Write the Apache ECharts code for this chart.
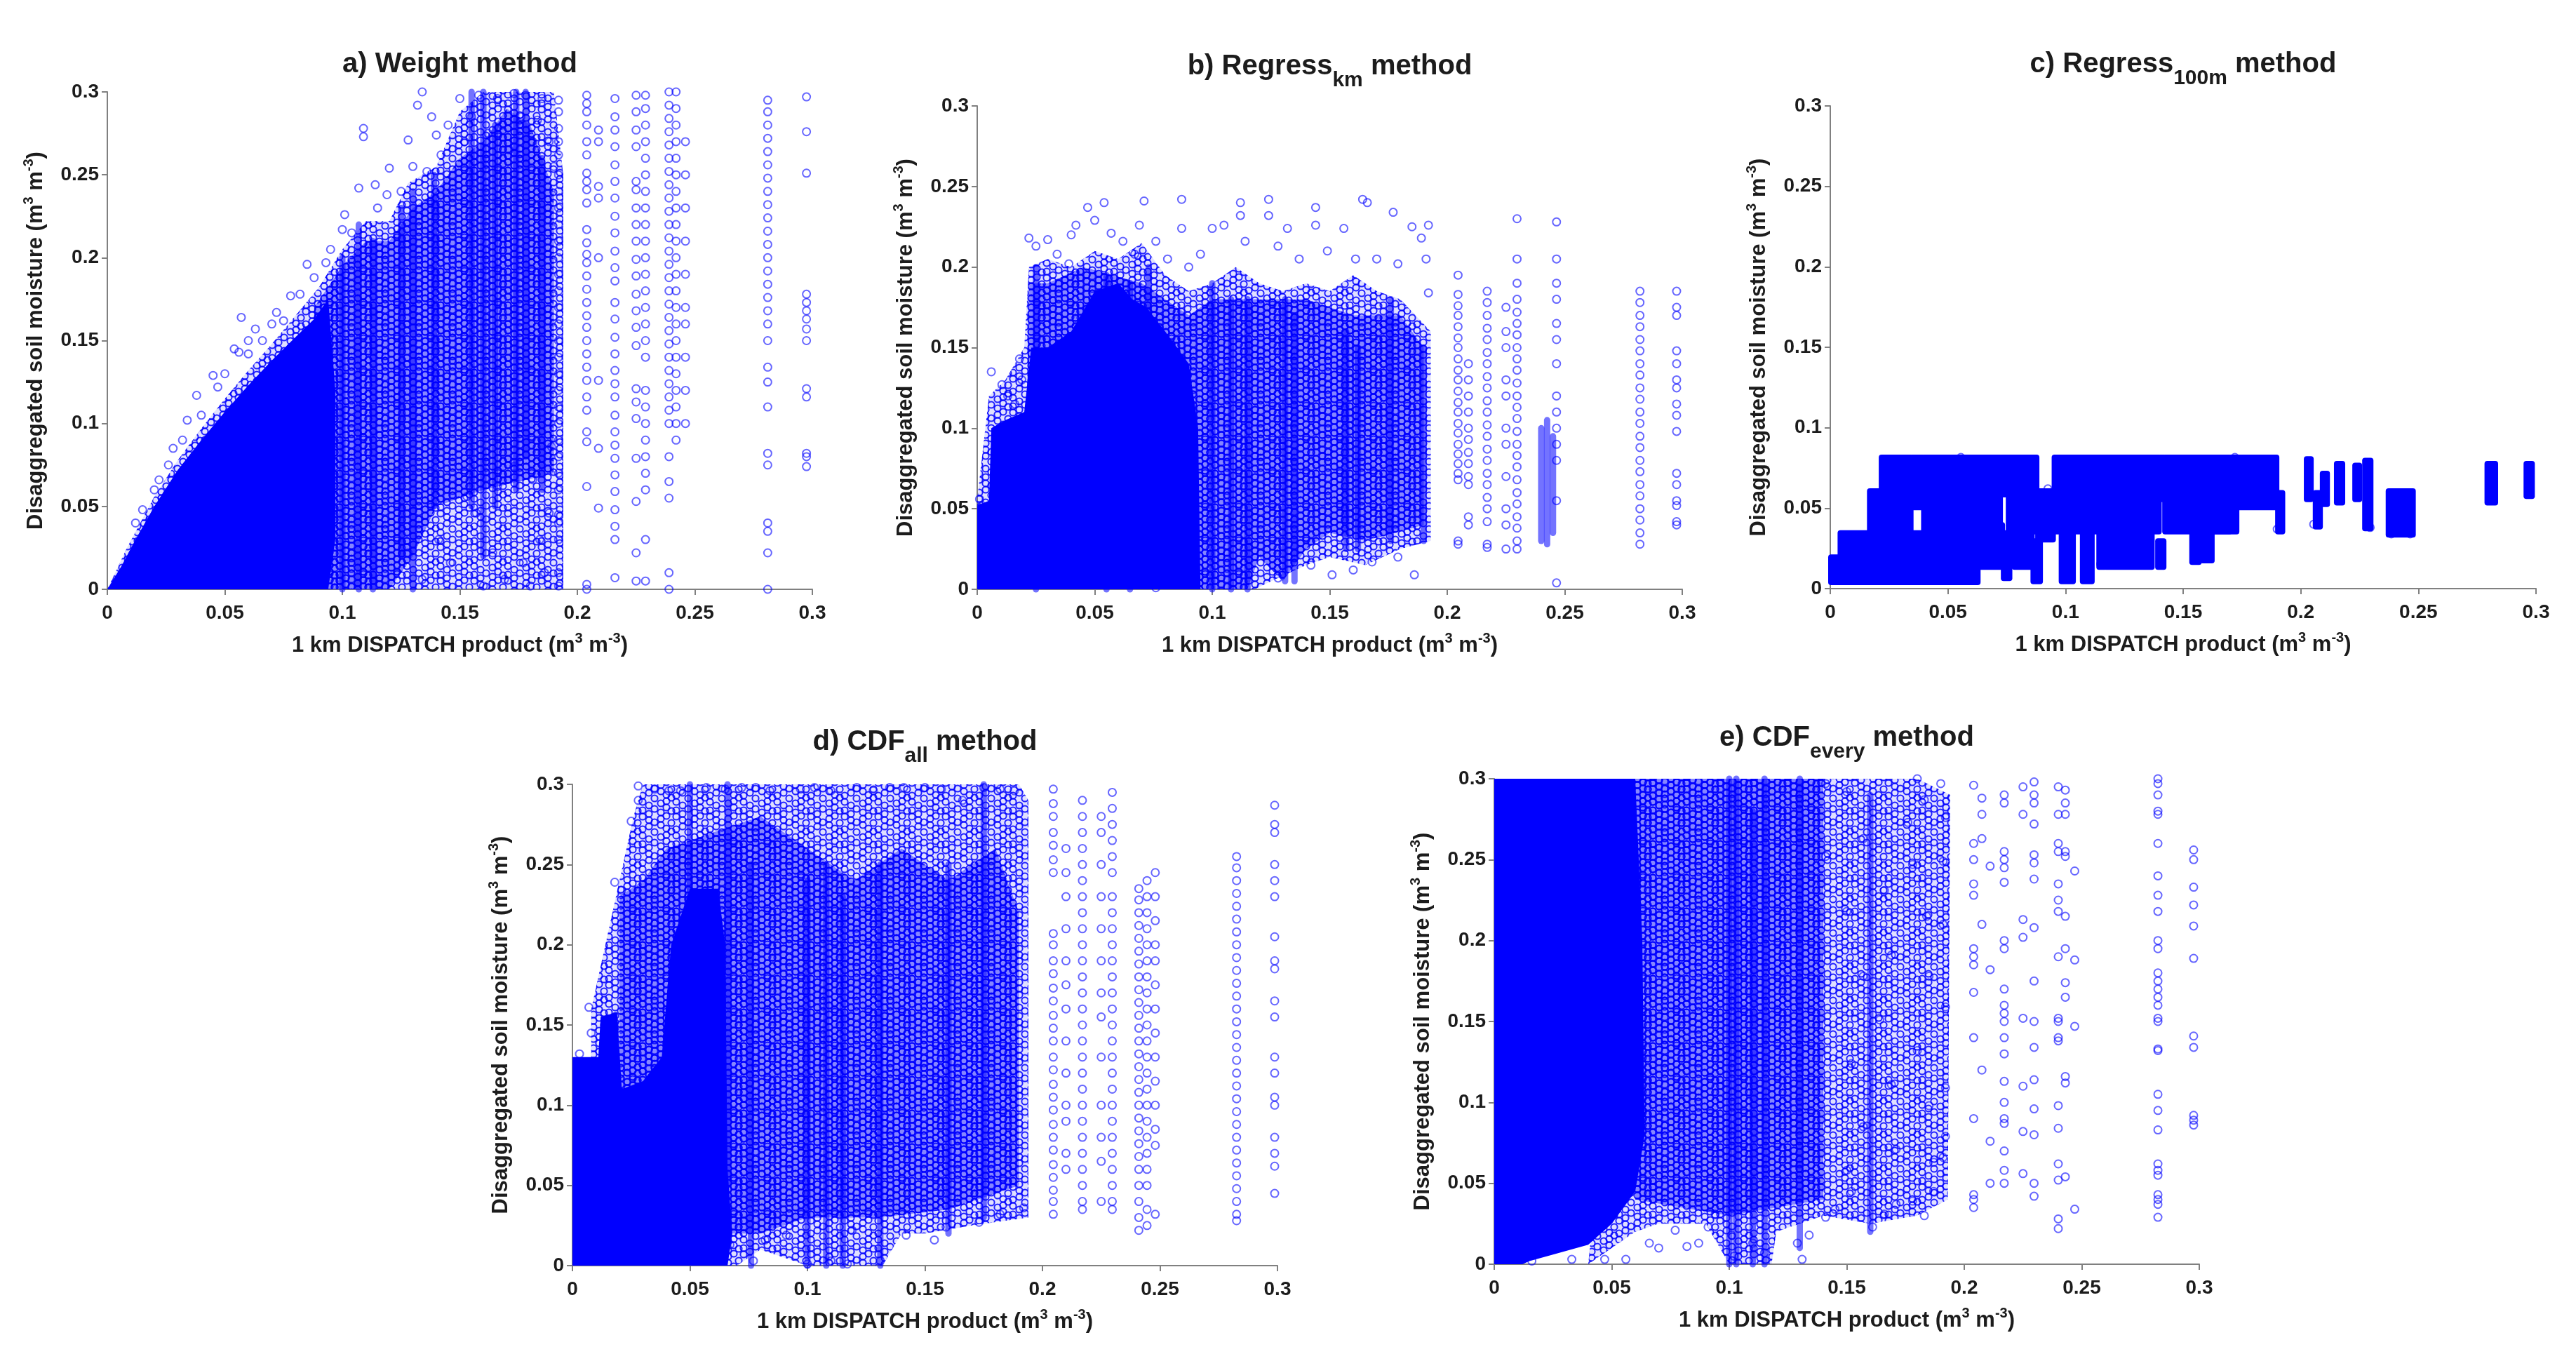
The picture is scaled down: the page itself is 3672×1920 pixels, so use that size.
<!DOCTYPE html>
<html><head><meta charset="utf-8">
<script src="https://cdn.jsdelivr.net/npm/echarts@6/dist/echarts.min.js"></script>
<style>html,body{margin:0;padding:0;background:#fff}#c{width:3672px;height:1920px}</style>
</head><body><div id="c"></div>
<script>
// ---------- text ----------
const tickLabels = ['0','0.05','0.1','0.15','0.2','0.25','0.3'];
const panelTitles = ['a) Weight method','b) Regress{sub|km} method','c) Regress{sub|100m} method','d) CDF{sub|all} method','e) CDF{sub|every} method'];

// ---------- panel a : Weight ----------
const aCore = [[0,0],[0.006,0.014],[0.012,0.03],[0.02,0.05],[0.03,0.072],[0.04,0.09],[0.05,0.107],[0.06,0.123],[0.07,0.138],[0.08,0.152],[0.088,0.163],[0.094,0.175],[0.097,0.12],[0.097,0.03],[0.094,0]];
const aOuter = [[0,0],[0.008,0.024],[0.02,0.056],[0.03,0.078],[0.04,0.097],[0.05,0.115],[0.06,0.132],[0.07,0.148],[0.08,0.165],[0.09,0.182],[0.1,0.205],[0.11,0.222],[0.12,0.222],[0.128,0.245],[0.14,0.255],[0.15,0.288],[0.16,0.3],[0.19,0.3],[0.194,0.25],[0.194,0]];
const aInner = [[0.088,0],[0.088,0.17],[0.1,0.195],[0.11,0.21],[0.12,0.21],[0.13,0.23],[0.14,0.24],[0.15,0.26],[0.16,0.27],[0.17,0.29],[0.18,0.28],[0.19,0.24],[0.19,0.07],[0.16,0.06],[0.14,0.05],[0.13,0.02],[0.12,0]];
const aSpans = [[0.1,0,0.2],[0.107,0,0.22],[0.113,0,0.21],[0.125,0.02,0.23],[0.13,0,0.24],[0.139,0.05,0.25],[0.155,0.05,0.3],[0.16,0.02,0.3],[0.165,0.05,0.28],[0.174,0.06,0.3],[0.178,0.08,0.3],[0.185,0.06,0.26]];
const aColX = [0.192,0.204,0.209,0.216,0.225,0.229,0.239,0.242,0.246,0.281,0.2975];
const aColY = [
 [0.295,0.288,0.278,0.27,0.262,0.25,0.24,0.23,0.22,0.21,0.2,0.19,0.18,0.17,0.16,0.15,0.14,0.13,0.12,0.11,0.1,0.09,0.08,0.07,0.06,0.045,0.04,0.03,0.01,0.002],
 [0.298,0.293,0.288,0.28,0.27,0.262,0.251,0.246,0.241,0.233,0.217,0.209,0.202,0.197,0.189,0.181,0.173,0.165,0.158,0.15,0.142,0.134,0.126,0.116,0.108,0.095,0.089,0.062,0.003,0],
 [0.277,0.27,0.243,0.236,0.2,0.126,0.085,0.049],
 [0.296,0.285,0.277,0.267,0.256,0.246,0.236,0.225,0.215,0.204,0.194,0.186,0.173,0.163,0.152,0.142,0.132,0.124,0.116,0.105,0.095,0.087,0.079,0.069,0.059,0.048,0.038,0.03,0.007],
 [0.298,0.288,0.277,0.267,0.246,0.241,0.23,0.22,0.21,0.199,0.189,0.178,0.168,0.158,0.147,0.121,0.113,0.103,0.079,0.053,0.022,0.005],
 [0.298,0.29,0.28,0.27,0.26,0.25,0.24,0.23,0.22,0.21,0.2,0.19,0.18,0.17,0.16,0.15,0.14,0.12,0.11,0.1,0.09,0.08,0.07,0.06,0.03,0.005],
 [0.3,0.292,0.284,0.276,0.268,0.26,0.252,0.244,0.236,0.228,0.22,0.212,0.204,0.196,0.188,0.18,0.172,0.164,0.156,0.148,0.14,0.132,0.124,0.116,0.108,0.1,0.08,0.065,0.055,0.01,0],
 [0.3,0.29,0.28,0.27,0.26,0.25,0.24,0.23,0.22,0.21,0.2,0.19,0.18,0.17,0.16,0.15,0.14,0.13,0.12,0.11,0.1,0.09],
 [0.27,0.25,0.23,0.21,0.19,0.17,0.16,0.14,0.12,0.1],
 [0.295,0.288,0.28,0.272,0.264,0.256,0.248,0.24,0.232,0.224,0.216,0.208,0.2,0.192,0.184,0.176,0.168,0.16,0.15,0.134,0.125,0.11,0.082,0.075,0.04,0.035,0.022,0],
 [0.297,0.276,0.251,0.178,0.173,0.168,0.163,0.157,0.15,0.121,0.116,0.082,0.08,0.074]
];
const aPts = [[0.057,0.164],[0.054,0.145],[0.056,0.143],[0.045,0.129],[0.038,0.117],[0.028,0.085],[0.034,0.102],[0.022,0.066],[0.012,0.04],[0.109,0.278],[0.109,0.273],[0.101,0.226],[0.1,0.217],[0.072,0.167],[0.063,0.157],[0.085,0.196],[0.078,0.177],[0.093,0.197],[0.107,0.242],[0.114,0.244],[0.12,0.254],[0.128,0.271],[0.134,0.3],[0.132,0.292],[0.14,0.274],[0.15,0.296],[0.158,0.298],[0.166,0.296],[0.173,0.299],[0.178,0.298],[0.185,0.296],[0.153,0.056],[0.157,0.046],[0.164,0.022],[0.169,0.006],[0.177,0.016],[0.184,0.03],[0.188,0.046],[0.186,0.01],[0.18,0.002],[0.16,0.002],[0.146,0.016],[0.141,0.03],[0.134,0.006],[0.128,0.022],[0.166,0.062],[0.173,0.074],[0.181,0.066],[0.189,0.086],[0.138,0.285],[0.142,0.262],[0.145,0.28],[0.152,0.27],[0.155,0.285],[0.162,0.275],[0.168,0.28],[0.171,0.265],[0.176,0.285],[0.181,0.27],[0.183,0.283],[0.188,0.27],[0.19,0.255],[0.115,0.23],[0.125,0.24],[0.119,0.238],[0.13,0.255],[0.136,0.252],[0.015,0.048],[0.02,0.06],[0.026,0.075],[0.032,0.09],[0.04,0.105],[0.047,0.122],[0.05,0.13],[0.06,0.142],[0.066,0.15],[0.075,0.162],[0.082,0.178],[0.088,0.188],[0.095,0.205],[0.104,0.215],[0.06,0.15],[0.07,0.16]];

// ---------- panel b : Regress_km ----------
const bCore = [[0,0],[0,0.052],[0.005,0.055],[0.006,0.1],[0.012,0.105],[0.02,0.11],[0.023,0.15],[0.03,0.15],[0.04,0.16],[0.05,0.185],[0.06,0.19],[0.066,0.18],[0.072,0.175],[0.08,0.16],[0.09,0.14],[0.094,0.1],[0.095,0]];
const bOuter = [[0,0],[0,0.056],[0.005,0.12],[0.012,0.13],[0.02,0.15],[0.022,0.2],[0.03,0.205],[0.04,0.2],[0.05,0.21],[0.06,0.205],[0.07,0.215],[0.08,0.195],[0.09,0.185],[0.1,0.19],[0.11,0.2],[0.12,0.19],[0.13,0.185],[0.14,0.19],[0.15,0.185],[0.16,0.195],[0.17,0.185],[0.18,0.18],[0.193,0.16],[0.193,0.03],[0.18,0.025],[0.165,0.015],[0.15,0.02],[0.14,0.015],[0.125,0.005],[0.118,0],[0.09,0]];
const bInner = [[0.02,0],[0.022,0.19],[0.03,0.19],[0.045,0.2],[0.07,0.19],[0.09,0.17],[0.1,0.18],[0.12,0.18],[0.14,0.18],[0.16,0.17],[0.18,0.17],[0.19,0.15],[0.19,0.04],[0.165,0.03],[0.15,0.035],[0.14,0.025],[0.13,0.005],[0.12,0.02],[0.115,0]];
const bSpans = [[0.025,0,0.2],[0.055,0,0.195],[0.065,0,0.19],[0.073,0.02,0.2],[0.1,0,0.19],[0.108,0,0.18],[0.115,0,0.18],[0.131,0.005,0.18],[0.135,0.005,0.17],[0.157,0.025,0.16],[0.162,0.025,0.15],[0.176,0.03,0.18],[0.19,0.03,0.15],[0.24,0.03,0.1],[0.2425,0.028,0.105],[0.245,0.035,0.095]];
const bColX = [0.2046,0.209,0.217,0.225,0.2297,0.2465,0.282,0.2976];
const bColY = [
 [0.195,0.183,0.176,0.17,0.163,0.156,0.15,0.143,0.136,0.13,0.123,0.116,0.11,0.103,0.097,0.09,0.084,0.078,0.072,0.068,0.03,0.028],
 [0.14,0.13,0.12,0.11,0.1,0.093,0.085,0.078,0.07,0.065,0.045,0.04],
 [0.185,0.178,0.17,0.162,0.155,0.147,0.14,0.132,0.125,0.117,0.11,0.102,0.095,0.087,0.08,0.072,0.065,0.057,0.05,0.042,0.028,0.026],
 [0.175,0.16,0.15,0.13,0.12,0.1,0.09,0.07,0.05,0.04,0.025],
 [0.23,0.205,0.19,0.18,0.172,0.165,0.158,0.15,0.143,0.136,0.128,0.12,0.113,0.106,0.098,0.09,0.083,0.076,0.068,0.06,0.053,0.045,0.038,0.03,0.025],
 [0.228,0.205,0.19,0.18,0.165,0.155,0.14,0.12,0.11,0.1,0.09,0.08,0.055,0.004],
 [0.185,0.178,0.17,0.163,0.155,0.148,0.14,0.133,0.125,0.118,0.11,0.103,0.095,0.088,0.08,0.073,0.065,0.058,0.05,0.043,0.035,0.028],
 [0.185,0.175,0.17,0.148,0.14,0.13,0.125,0.115,0.108,0.098,0.072,0.065,0.055,0.052,0.042,0.04]
];
const bPts = [[0.054,0.24],[0.047,0.237],[0.042,0.226],[0.04,0.22],[0.05,0.229],[0.069,0.226],[0.071,0.241],[0.087,0.242],[0.087,0.224],[0.1,0.224],[0.105,0.226],[0.112,0.24],[0.112,0.232],[0.124,0.242],[0.124,0.232],[0.132,0.224],[0.144,0.237],[0.144,0.226],[0.156,0.224],[0.164,0.242],[0.166,0.24],[0.177,0.234],[0.185,0.225],[0.192,0.226],[0.189,0.218],[0.022,0.218],[0.025,0.213],[0.03,0.217],[0.034,0.208],[0.039,0.202],[0.057,0.221],[0.062,0.216],[0.067,0.208],[0.076,0.216],[0.081,0.205],[0.09,0.2],[0.095,0.208],[0.114,0.216],[0.128,0.213],[0.137,0.205],[0.149,0.21],[0.161,0.205],[0.17,0.205],[0.179,0.202],[0.191,0.205],[0.192,0.184],[0.006,0.135],[0.0105,0.127],[0.013,0.12],[0.016,0.115],[0.019,0.13],[0.018,0.143],[0.002,0.052],[0.001,0.056],[0.186,0.009],[0.151,0.009],[0.16,0.012],[0.142,0.015],[0.076,0.001],[0.128,0.007],[0.168,0.017],[0.179,0.02]];

// ---------- panel c : Regress_100m (blocks: x0, x1, y0, y1) ----------
const cBlocks = [
 [0,0.0055,0.0035,0.02],[0.004,0.063,0.0035,0.035],[0.0165,0.0225,0.02,0.061],[0.0215,0.0345,0.035,0.082],[0.0345,0.0395,0.05,0.082],
 [0.0395,0.0725,0.035,0.082],[0.0725,0.0755,0.058,0.082],[0.0755,0.088,0.035,0.082],[0.088,0.095,0.03,0.061],[0.095,0.14,0.035,0.082],
 [0.14,0.142,0.055,0.082],[0.142,0.17,0.035,0.082],[0.17,0.19,0.05,0.082],[0.19,0.1925,0.035,0.06],
 [0.0635,0.0734,0.013,0.04],[0.0734,0.0765,0.006,0.035],[0.078,0.086,0.013,0.035],[0.086,0.0895,0.004,0.03],[0.098,0.1035,0.004,0.035],
 [0.107,0.1115,0.004,0.035],[0.114,0.117,0.013,0.035],[0.117,0.137,0.013,0.035],[0.139,0.142,0.013,0.03],[0.1535,0.157,0.016,0.035],
 [0.158,0.1625,0.017,0.04],[0.163,0.173,0.035,0.06],
 [0.2022,0.2046,0.055,0.081],[0.206,0.2085,0.038,0.06],[0.209,0.2115,0.052,0.072],[0.215,0.218,0.053,0.078],[0.2228,0.2252,0.055,0.077],
 [0.227,0.23,0.037,0.08],[0.237,0.248,0.033,0.061],[0.279,0.283,0.053,0.078],[0.2956,0.2986,0.057,0.078]
];
const cPts = [[0.115,0.0152],[0.0925,0.062],[0.2055,0.04],[0.2385,0.034],[0.2465,0.034],[0.2295,0.038],[0.19,0.037],[0.0555,0.0815],[0.172,0.0815]];

// ---------- panel d : CDF_all ----------
const dCore = [[0,0],[0,0.13],[0.011,0.13],[0.012,0.155],[0.019,0.158],[0.021,0.11],[0.03,0.115],[0.038,0.13],[0.042,0.2],[0.05,0.235],[0.062,0.235],[0.065,0.2],[0.066,0.06],[0.068,0.02],[0.066,0]];
const dOuter = [[0.008,0],[0.008,0.16],[0.02,0.24],[0.026,0.28],[0.03,0.3],[0.19,0.3],[0.194,0.29],[0.194,0.03],[0.17,0.025],[0.15,0.02],[0.14,0.02],[0.132,0],[0.1,0],[0.09,0.005],[0.08,0.01],[0.07,0]];
const dInner = [[0.02,0.02],[0.02,0.23],[0.03,0.24],[0.04,0.26],[0.06,0.27],[0.08,0.28],[0.1,0.26],[0.12,0.24],[0.14,0.26],[0.16,0.24],[0.18,0.26],[0.19,0.22],[0.19,0.05],[0.16,0.035],[0.13,0.03],[0.1,0.03],[0.08,0.02]];
const dSpans = [[0.076,0,0.25],[0.1,0,0.24],[0.108,0,0.25],[0.115,0,0.23],[0.131,0,0.25],[0.16,0.02,0.25],[0.175,0.03,0.3],[0.05,0.1,0.3],[0.066,0.05,0.3]];
const dColX = [0.2046,0.21,0.217,0.225,0.2297,0.241,0.2445,0.248,0.2826,0.2988];
const dColY = [
 [0.297,0.288,0.28,0.27,0.262,0.253,0.245,0.207,0.2,0.19,0.182,0.173,0.165,0.156,0.148,0.14,0.13,0.122,0.113,0.105,0.097,0.088,0.08,0.072,0.063,0.055,0.047,0.04,0.032],
 [0.26,0.245,0.23,0.21,0.19,0.175,0.16,0.14,0.12,0.1,0.09,0.07,0.06],
 [0.29,0.28,0.27,0.26,0.25,0.24,0.23,0.22,0.21,0.2,0.19,0.18,0.17,0.16,0.15,0.14,0.13,0.12,0.11,0.1,0.09,0.08,0.07,0.06,0.05,0.04,0.035],
 [0.28,0.27,0.25,0.23,0.21,0.19,0.17,0.155,0.13,0.1,0.08,0.065,0.04],
 [0.295,0.285,0.275,0.265,0.255,0.245,0.23,0.22,0.21,0.2,0.19,0.18,0.17,0.16,0.15,0.14,0.13,0.12,0.11,0.1,0.09,0.08,0.07,0.06,0.05,0.04,0.035],
 [0.235,0.228,0.22,0.212,0.204,0.196,0.188,0.18,0.172,0.164,0.156,0.148,0.14,0.132,0.124,0.116,0.108,0.1,0.092,0.084,0.076,0.068,0.06,0.05,0.04,0.03,0.022],
 [0.24,0.23,0.22,0.21,0.2,0.19,0.18,0.17,0.16,0.15,0.14,0.13,0.12,0.11,0.1,0.09,0.08,0.07,0.06,0.05,0.035,0.025],
 [0.245,0.23,0.215,0.2,0.19,0.175,0.16,0.145,0.13,0.115,0.1,0.085,0.075,0.032],
 [0.255,0.248,0.24,0.232,0.224,0.216,0.208,0.2,0.192,0.184,0.176,0.168,0.16,0.152,0.144,0.136,0.128,0.12,0.112,0.104,0.096,0.088,0.08,0.072,0.064,0.056,0.048,0.04,0.032,0.028],
 [0.287,0.275,0.27,0.25,0.24,0.23,0.205,0.19,0.185,0.165,0.155,0.13,0.12,0.105,0.1,0.08,0.07,0.062,0.045]
];
const dPts = [[0.028,0.299],[0.035,0.297],[0.041,0.296],[0.046,0.296],[0.057,0.298],[0.065,0.297],[0.072,0.298],[0.078,0.298],[0.084,0.296],[0.097,0.297],[0.103,0.298],[0.11,0.296],[0.121,0.298],[0.128,0.296],[0.135,0.298],[0.141,0.298],[0.15,0.298],[0.157,0.297],[0.166,0.29],[0.175,0.298],[0.182,0.297],[0.188,0.296],[0.007,0.161],[0.008,0.145],[0.003,0.132],[0.018,0.239],[0.021,0.234],[0.025,0.277],[0.028,0.29],[0.077,0.003],[0.1,0.001],[0.11,0.003],[0.117,0.001],[0.131,0.003],[0.091,0.019],[0.067,0.013],[0.082,0.016],[0.154,0.016],[0.159,0.024],[0.173,0.027],[0.182,0.032],[0.192,0.036],[0.142,0.019],[0.119,0.022]];

// ---------- panel e : CDF_every ----------
const eCore = [[0,0],[0,0.3],[0.06,0.3],[0.063,0.2],[0.064,0.08],[0.06,0.045],[0.05,0.025],[0.04,0.012],[0.025,0.006],[0.015,0.002],[0.012,0]];
const eOuter = [[0.04,0],[0.06,0.02],[0.07,0.025],[0.09,0.025],[0.1,0],[0.118,0],[0.12,0.02],[0.14,0.03],[0.16,0.025],[0.18,0.03],[0.193,0.04],[0.194,0.29],[0.18,0.3],[0.06,0.3]];
const eInner = [[0.06,0.04],[0.06,0.3],[0.1,0.3],[0.14,0.3],[0.14,0.04],[0.1,0.03],[0.08,0.035]];
const eSpans = [[0.1,0,0.3],[0.103,0,0.3],[0.11,0,0.28],[0.115,0,0.3],[0.13,0.01,0.3],[0.16,0.02,0.29]];
const eColX = [0.204,0.2075,0.211,0.217,0.225,0.2297,0.24,0.243,0.247,0.2824,0.2976];
const eColY = [
 [0.296,0.26,0.25,0.235,0.228,0.195,0.19,0.185,0.168,0.14,0.09,0.043,0.04,0.035],
 [0.288,0.278,0.263,0.21,0.12],
 [0.246,0.182,0.076,0.05],
 [0.29,0.285,0.255,0.25,0.245,0.236,0.2,0.195,0.17,0.16,0.155,0.15,0.14,0.13,0.113,0.1,0.09,0.087,0.07,0.058,0.05],
 [0.295,0.278,0.213,0.202,0.152,0.11,0.082,0.056],
 [0.298,0.29,0.285,0.272,0.253,0.248,0.238,0.208,0.175,0.15,0.134,0.114,0.096,0.08,0.05,0.042],
 [0.295,0.278,0.26,0.255,0.235,0.225,0.218,0.19,0.152,0.15,0.14,0.138,0.098,0.084,0.062,0.052,0.028,0.022],
 [0.293,0.285,0.278,0.255,0.252,0.215,0.195,0.174,0.165,0.116,0.112,0.054],
 [0.243,0.188,0.147,0.034],
 [0.3,0.297,0.29,0.28,0.278,0.26,0.24,0.228,0.218,0.2,0.195,0.18,0.175,0.17,0.165,0.16,0.152,0.15,0.133,0.132,0.105,0.095,0.083,0.062,0.058,0.055,0.043,0.04,0.037,0.029],
 [0.256,0.25,0.233,0.222,0.209,0.189,0.141,0.134,0.092,0.089,0.086]
];
const ePts = [[0.056,0.003],[0.047,0.003],[0.033,0.003],[0.016,0.002],[0.066,0.013],[0.07,0.01],[0.077,0.021],[0.082,0.011],[0.087,0.013],[0.091,0.023],[0.094,0.031],[0.101,0.018],[0.102,0.005],[0.11,0.013],[0.115,0.007],[0.129,0.013],[0.131,0.003],[0.134,0.018],[0.141,0.029],[0.145,0.034],[0.152,0.045],[0.161,0.023],[0.166,0.031],[0.171,0.037],[0.178,0.039],[0.183,0.03],[0.187,0.045],[0.191,0.066],[0.192,0.079],[0.192,0.109],[0.192,0.159],[0.191,0.21],[0.191,0.249],[0.192,0.276],[0.19,0.297],[0.18,0.3],[0.183,0.287],[0.176,0.273],[0.178,0.247],[0.184,0.215],[0.185,0.178],[0.18,0.132],[0.185,0.098],[0.187,0.063],[0.171,0.071],[0.169,0.111],[0.164,0.151],[0.169,0.191],[0.166,0.231],[0.157,0.263],[0.15,0.292],[0.141,0.297],[0.15,0.058],[0.157,0.085],[0.152,0.124],[0.157,0.178],[0.15,0.218],[0.141,0.252]];

// ---------- layout / style ----------
const F = 'Liberation Sans, Arial, sans-serif';
const TXT = '#1c1c1c';
const AX = '#808080';
const grids = [
  {left:153, top:131, width:1005, height:709},
  {left:1393, top:151, width:1005, height:689},
  {left:2609, top:151, width:1006, height:688},
  {left:816, top:1118, width:1005, height:686},
  {left:2130, top:1110, width:1005, height:692}
];
const titleY = [92, 95, 92, 1058, 1052];

// ring texture used to paint the densely over-plotted areas
const sparseRings = [[4,[3,12,30,39]],[13,[8,17,26,44]],[21,[1,20,34]],[30,[6,15,24,41]],[38,[11,29,38,47]],[45,[4,21,33]]];
const denseRings = [[4,[3,12,21,30,39]],[13,[8,17,26,35,44]],[21,[1,10,20,28,34,43]],[30,[6,15,24,33,41]],[38,[2,11,20,29,38,47]],[45,[4,13,21,33,42]]];
function ringTile(cols, base) {
  const S = 48, cv = document.createElement('canvas');
  cv.width = S; cv.height = S;
  const ctx = cv.getContext('2d');
  if (base) { ctx.fillStyle = base; ctx.fillRect(0, 0, S, S); }
  ctx.strokeStyle = 'rgba(0,0,255,0.85)'; ctx.lineWidth = 2;
  cols.forEach(([x, ys]) => ys.forEach(y => {
    for (const dx of [-S, 0, S]) for (const dy of [-S, 0, S]) {
      ctx.beginPath(); ctx.arc(x + dx, y + dy, 4.6, 0, Math.PI * 2); ctx.stroke();
    }
  }));
  return {image: cv, repeat: 'repeat'};
}
const OUT = ringTile(sparseRings, 'rgba(0,0,255,0.12)');
const INN = ringTile(denseRings, 'rgba(0,0,255,0.4)');
const CORE = '#0000ff', SPAN = 'rgba(0,0,255,0.55)';

const nameRich = {
  n: {fontSize:31, fontWeight:'bold', fontFamily:F, color:TXT},
  sup: {fontSize:20, fontWeight:'bold', fontFamily:F, color:TXT, padding:[0,0,20,0]}
};
function axisBase(gi, isX) {
  return {
    type:'value', gridIndex:gi, min:0, max:0.3, interval:0.05,
    name: isX ? '{n|1 km DISPATCH product (m}{sup|3}{n| m}{sup|-3}{n|)}' : '{n|Disaggregated soil moisture (m}{sup|3}{n| m}{sup|-3}{n|)}',
    nameLocation:'middle', nameGap: isX ? 60 : 82,
    nameTextStyle:{fontSize:31, fontWeight:'bold', fontFamily:F, color:TXT, rich:nameRich},
    axisLine:{show:true, onZero:false, lineStyle:{color:AX, width:2}},
    axisTick:{show:true, inside:false, length:8, lineStyle:{color:AX, width:2}},
    splitLine:{show:false},
    axisLabel:{color:TXT, fontSize:28, fontWeight:'bold', fontFamily:F, margin: isX ? 20 : 12,
      formatter: v => tickLabels[Math.round(v / 0.05)]}
  };
}

const RING = {color:'rgba(0,0,0,0)', borderColor:'rgba(0,0,255,0.75)', borderWidth:2};
function polySeries(gi, poly, fill) {
  return {type:'custom', xAxisIndex:gi, yAxisIndex:gi, silent:true, clip:false,
    data:[[poly[0][0], poly[0][1]]],
    renderItem:(params, api) => ({type:'polygon', shape:{points: poly.map(q => api.coord(q))}, style:{fill}})};
}
function spanSeries(gi, spans, fill) {
  const w = 9;
  return {type:'custom', xAxisIndex:gi, yAxisIndex:gi, silent:true, clip:false, data:spans,
    renderItem:(params, api) => {
      const t = api.coord([api.value(0), api.value(2)]);
      const b = api.coord([api.value(0), api.value(1)]);
      return {type:'rect', shape:{x:t[0]-w/2, y:t[1]-w/2, width:w, height:b[1]-t[1]+w, r:w/2}, style:{fill}};
    }};
}
function blockSeries(gi, blocks) {
  return {type:'custom', xAxisIndex:gi, yAxisIndex:gi, silent:true, clip:false, data:blocks,
    renderItem:(params, api) => {
      const p1 = api.coord([api.value(0), api.value(3)]);
      const p2 = api.coord([api.value(1), api.value(2)]);
      return {type:'rect', shape:{x:p1[0]-3, y:p1[1]-3, width:p2[0]-p1[0]+6, height:p2[1]-p1[1]+6, r:4}, style:{fill:'#0000ff'}};
    }};
}
function colPoints(xs, ys) {
  const out = [];
  xs.forEach((x, i) => ys[i].forEach(y => out.push([x, y])));
  return out;
}
function scatterSeries(gi, pts) {
  return {type:'scatter', xAxisIndex:gi, yAxisIndex:gi, silent:true, clip:false, symbol:'circle', symbolSize:11, itemStyle:RING, data:pts};
}

const series = [
  polySeries(0, aOuter, OUT), polySeries(0, aInner, INN), polySeries(0, aCore, CORE), spanSeries(0, aSpans, SPAN),
  scatterSeries(0, colPoints(aColX, aColY).concat(aPts)),
  polySeries(1, bOuter, OUT), polySeries(1, bInner, INN), polySeries(1, bCore, CORE), spanSeries(1, bSpans, SPAN),
  scatterSeries(1, colPoints(bColX, bColY).concat(bPts)),
  blockSeries(2, cBlocks), scatterSeries(2, cPts),
  polySeries(3, dOuter, OUT), polySeries(3, dInner, INN), polySeries(3, dCore, CORE), spanSeries(3, dSpans, SPAN),
  scatterSeries(3, colPoints(dColX, dColY).concat(dPts)),
  polySeries(4, eOuter, OUT), polySeries(4, eInner, INN), polySeries(4, eCore, CORE), spanSeries(4, eSpans, SPAN),
  scatterSeries(4, colPoints(eColX, eColY).concat(ePts))
];

const titleGraphics = panelTitles.map((t, i) => ({
  type:'text', x: grids[i].left + grids[i].width / 2, y: titleY[i], silent:true,
  style:{text: t.replace(/^([^{]*)/, '{m|$1}').replace(/\}([^{]+)$/, '}{m|$1}'),
    align:'center', verticalAlign:'middle', fill:TXT,
    font:'bold 40px ' + F,
    rich:{
      m:{fontSize:40, fontWeight:'bold', fontFamily:F, fill:TXT},
      sub:{fontSize:30, fontWeight:'bold', fontFamily:F, fill:TXT, padding:[40,0,0,0]}
    }}
}));

const chart = echarts.init(document.getElementById('c'), null, {renderer:'canvas'});
chart.setOption({
  animation:false,
  backgroundColor:'#ffffff',
  grid: grids.map(g => Object.assign({containLabel:false}, g)),
  xAxis: grids.map((g, i) => axisBase(i, true)),
  yAxis: grids.map((g, i) => axisBase(i, false)),
  graphic: titleGraphics,
  series
});
</script></body></html>
